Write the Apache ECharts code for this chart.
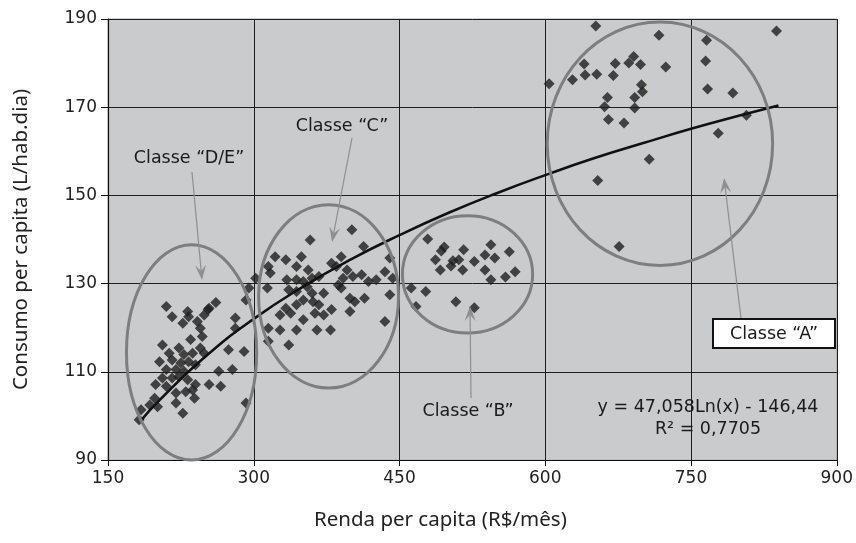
<!DOCTYPE html>
<html lang="pt-BR">
<head>
<meta charset="UTF-8">
<title>Consumo per capita x Renda per capita</title>
<script src="https://cdn.jsdelivr.net/npm/echarts@6/dist/echarts.min.js"></script>
<style>html,body{margin:0;padding:0;background:#fff;}</style>
</head>
<body>
<div id="chart" style="width:856px;height:543px;"></div>
<script>
// pontos, por classe
const rendaDE = [210,216,227,232,233,242,249,254,261,245,247,235,206,213,223,228,237,245,249,203,216,225,233,240,210,220,228,206,216,223,232,199,210,240,237,230,220,239,220,198,193,201,227,184,274,290,281,292,264,278,254,266,292,295,281,253,182];
const consumoDE = [124.8,122.5,121.0,123.7,122.5,121.4,122.9,124.4,125.7,119.9,118.0,117.3,116.1,114.2,115.4,113.9,114.2,115.4,114.2,112.3,112.7,112.0,112.3,111.6,110.5,110.5,110.1,108.6,108.6,108.9,108.2,107.1,106.7,107.1,105.9,105.5,105.2,104.0,102.9,104.0,102.5,102.1,100.6,101.4,115.0,114.6,122.2,126.3,110.1,110.5,107.1,106.7,102.9,129.0,119.9,124.1,99.1];

const rendaC = [358,401,322,333,349,344,356,315,317,334,344,351,360,367,380,390,385,396,392,402,411,418,413,314,336,344,355,360,372,387,390,351,361,367,344,333,327,338,363,372,380,351,399,404,414,399,315,327,344,365,379,315,336,435,440,443,440,435,302,426,462,477,467];
const consumoC = [139.9,142.2,136.1,135.4,136.1,133.9,133.1,133.9,132.4,130.9,130.9,130.5,131.2,131.6,134.6,136.1,133.9,133.1,131.2,131.6,132.0,130.5,138.4,129.0,128.6,128.2,129.3,127.8,127.8,129.7,129.0,126.3,125.9,125.2,125.2,124.4,122.9,123.3,123.3,122.9,124.1,121.8,126.7,125.9,126.7,123.7,119.9,119.5,119.5,119.5,119.5,116.9,116.1,132.7,135.8,131.2,127.5,121.4,131.2,130.9,129.0,128.2,124.8];

const rendaB = [479,496,493,516,487,505,511,503,492,515,527,538,544,548,538,563,569,559,544,508,527];
const consumoB = [140.1,138.3,137.4,137.7,135.4,135.2,135.4,134.0,133.1,133.1,135.0,136.5,138.8,135.8,133.1,137.2,132.7,131.5,130.9,125.9,124.5];

const rendaA = [652,717,766,838,604,628,640,641,653,670,672,686,691,698,724,765,699,700,664,692,661,692,665,681,767,793,807,778,707,654,676];
const consumoA = [188.4,186.3,185.2,187.3,175.3,176.2,179.8,177.3,177.5,177.2,179.9,180.0,181.5,179.7,179.1,180.5,175.1,173.5,172.2,172.2,170.1,169.8,167.2,166.4,174.1,173.2,168.2,164.1,158.2,153.4,138.4];

// linha de tendência logarítmica
const tendX = [185,200,250,300,350,400,450,500,550,600,650,700,750,800,840];
const tendY = [99.2,102.9,113.4,122.0,129.2,135.5,141.0,146.0,150.5,154.6,158.4,161.8,165.1,168.1,170.4];

const xTicks = [150,300,450,600,750,900];
const yTicks = [90,110,130,150,170,190];

const pontos = [];
[[rendaDE, consumoDE], [rendaC, consumoC], [rendaB, consumoB], [rendaA, consumoA]].forEach(([xs, ys]) => {
    xs.forEach((x, i) => pontos.push([x, ys[i]]));
});
const tendencia = tendX.map((x, i) => [x, tendY[i]]);

const chart = echarts.init(document.getElementById('chart'));
const labelFont = { fontFamily: 'DejaVu Sans', fontSize: 17, color: '#222' };

chart.setOption({
    animation: false,
    grid: { left: 108, right: 18, top: 19, bottom: 83, show: true, backgroundColor: '#cacbcd', borderColor: '#a8a8a8', borderWidth: 1 },
    xAxis: {
        type: 'value', min: xTicks[0], max: xTicks[xTicks.length - 1], interval: 150,
        name: 'Renda per capita (R$/mês)', nameLocation: 'middle', nameGap: 50,
        nameTextStyle: { fontFamily: 'Noto Sans', fontSize: 20.5, color: '#222', padding: [0, 64, 0, 0] },
        axisLine: { lineStyle: { color: '#111', width: 1.2 } },
        axisTick: { show: true, length: 6, lineStyle: { color: '#111' } },
        axisLabel: Object.assign({ margin: 10 }, labelFont),
        splitLine: { show: true, lineStyle: { color: '#1e1e1e', width: 1 } }
    },
    yAxis: {
        type: 'value', min: yTicks[0], max: yTicks[yTicks.length - 1], interval: 20,
        name: 'Consumo per capita (L/hab.dia)', nameLocation: 'middle', nameGap: 76,
        nameTextStyle: { fontFamily: 'Noto Sans', fontSize: 20.5, color: '#222' },
        axisLine: { show: true, lineStyle: { color: '#111', width: 1.2 } },
        axisTick: { show: true, length: 7, lineStyle: { color: '#111' } },
        axisLabel: Object.assign({ margin: 11 }, labelFont),
        splitLine: { show: true, lineStyle: { color: '#1e1e1e', width: 1 } }
    },
    series: [
        {
            type: 'scatter', data: pontos, symbol: 'diamond', symbolSize: [11, 11],
            itemStyle: { color: '#1e1e1e' }, z: 3
        },
        {
            type: 'line', data: tendencia, smooth: true, showSymbol: false,
            lineStyle: { color: '#111', width: 2.6 }, z: 4
        }
    ]
});

// anotações: elipses (em unidades dos dados), setas e textos
const elipses = [
    { cx: 236, cy: 114.4, rx: 67, ry: 24.4 },
    { cx: 377, cy: 127.1, rx: 72, ry: 20.8 },
    { cx: 520, cy: 132.1, rx: 67, ry: 13.3 },
    { cx: 718, cy: 161.7, rx: 116, ry: 27.6 }
];

const graphic = [];
elipses.forEach(e => {
    const c = chart.convertToPixel({ gridIndex: 0 }, [e.cx, e.cy]);
    const p = chart.convertToPixel({ gridIndex: 0 }, [e.cx + e.rx, e.cy + e.ry]);
    graphic.push({
        type: 'ellipse', z: 10,
        shape: { cx: c[0], cy: c[1], rx: Math.abs(p[0] - c[0]), ry: Math.abs(c[1] - p[1]) },
        style: { fill: 'none', stroke: '#7e7e7e', lineWidth: 3 }
    });
});

function seta(x1, y1, x2, y2) {
    const a = Math.atan2(y2 - y1, x2 - x1);
    const len = 15, w = 5.5;
    const cos = Math.cos(a), sin = Math.sin(a);
    const bx = x2 - len * cos, by = y2 - len * sin;
    const nx = x2 - len * 0.6 * cos, ny = y2 - len * 0.6 * sin;
    graphic.push({
        type: 'line', z: 11,
        shape: { x1: x1, y1: y1, x2: nx, y2: ny },
        style: { stroke: '#8f8f8f', lineWidth: 1.2 }
    });
    graphic.push({
        type: 'polygon', z: 11,
        shape: { points: [[x2, y2], [bx - w * sin, by + w * cos], [nx, ny], [bx + w * sin, by - w * cos]] },
        style: { fill: '#8f8f8f' }
    });
}
seta(192, 172, 202, 280);
seta(352, 138, 332, 242);
seta(471, 398, 470, 306);
seta(741, 318, 724, 178);

const txt = { fontFamily: 'DejaVu Sans', fontSize: 17.5, fill: '#1a1a1a', align: 'center', verticalAlign: 'middle' };
function texto(s, x, y) {
    graphic.push({ type: 'text', z: 12, x: x, y: y, style: Object.assign({ text: s }, txt) });
}
texto('Classe “D/E”', 189, 158);
texto('Classe “C”', 342, 126);
texto('Classe “B”', 468, 411);

graphic.push({
    type: 'rect', z: 12,
    shape: { x: 713, y: 319, width: 122, height: 29 },
    style: { fill: '#fff', stroke: '#111', lineWidth: 2 }
});
texto('Classe “A”', 774, 334);
texto('y = 47,058Ln(x) - 146,44', 708, 407);
texto('R² = 0,7705', 708, 429);

chart.setOption({ graphic: graphic });
</script>
</body>
</html>
